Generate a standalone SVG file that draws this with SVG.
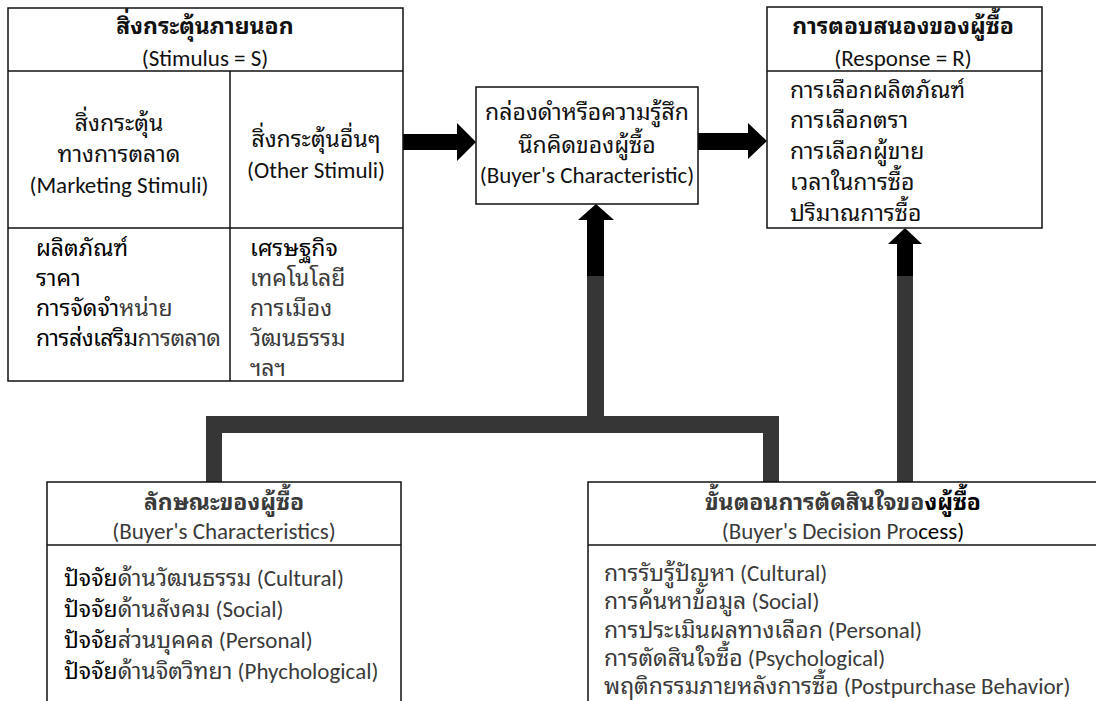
<svg xmlns="http://www.w3.org/2000/svg" width="1096" height="701" viewBox="0 0 1096 701">
<style>
  text { font-family: Carlito, Lato, "Noto Sans Thai Looped", Loma, Garuda, "Noto Sans Thai", "Noto Sans", sans-serif; font-size: 23px; fill: #111; }
  .b { font-weight: bold; }
  .c { text-anchor: middle; }
  .k { fill: #000; }
  .g { fill: #3a3a3a; }
  .box { fill: #fff; stroke: #111; stroke-width: 1.5; }
  .ln { stroke: #111; stroke-width: 1.5; fill: none; }
  .arr { fill: #000; }
  .gr { fill: #363636; }
</style>
<rect width="1096" height="701" fill="#fff"/>

<g id="connectors">
  <polygon class="arr" points="403,134 457,134 457,123 476,142 457,161 457,150 403,150"/>
  <polygon class="arr" points="698,133 748,133 748,123 767,141 748,159 748,150 698,150"/>
  <polygon class="arr" points="596,204 614,220 604,220 604,276 587,276 587,220 578,220"/>
  <polygon class="arr" points="905,228 922,244 913,244 913,276 897,276 897,244 888,244"/>
  <rect class="gr" x="587" y="276" width="17" height="142"/>
  <rect class="gr" x="897" y="276" width="16" height="207"/>
  <path class="gr" d="M206,416 H779 V482 H763 V433 H222 V482 H206 Z"/>
</g>

<g id="stimulus">
  <rect class="box" x="8" y="8" width="395" height="373"/>
  <line class="ln" x1="8" y1="71" x2="403" y2="71"/>
  <line class="ln" x1="230" y1="71" x2="230" y2="381"/>
  <line class="ln" x1="8" y1="228" x2="403" y2="228"/>
  <text class="b c" x="205" y="34">สิ่งกระตุ้นภายนอก</text>
  <text class="c" x="205" y="66">(Stimulus = S)</text>
  <text class="c" x="119" y="131">สิ่งกระตุ้น</text>
  <text class="c" x="119" y="162">ทางการตลาด</text>
  <text class="c" x="119" y="193">(Marketing Stimuli)</text>
  <text class="c" x="316" y="147">สิ่งกระตุ้นอื่นๆ</text>
  <text class="c" x="316" y="178">(Other Stimuli)</text>
  <text class="k" x="36" y="256">ผลิตภัณฑ์</text>
  <text class="k" x="36" y="286">ราคา</text>
  <text x="36" y="316"><tspan class="k">การจัดจำ</tspan><tspan class="g">หน่าย</tspan></text>
  <text x="36" y="346" letter-spacing="-0.5"><tspan class="k">การส่งเสริม</tspan><tspan class="g">การตลาด</tspan></text>
  <text class="k" x="250" y="256">เศรษฐกิจ</text>
  <text class="g" x="250" y="286">เทคโนโลยี</text>
  <text class="g" x="250" y="316">การเมือง</text>
  <text class="g" x="250" y="346">วัฒนธรรม</text>
  <text class="g" x="250" y="376">ฯลฯ</text>
</g>

<g id="blackbox">
  <rect class="box" x="476" y="87" width="222" height="117"/>
  <text class="c" x="587" y="120">กล่องดำหรือความรู้สึก</text>
  <text class="c" x="587" y="153">นึกคิดของผู้ซื้อ</text>
  <text class="c" x="587" y="183">(Buyer's Characteristic)</text>
</g>

<g id="response">
  <rect class="box" x="767" y="7" width="275" height="221"/>
  <line class="ln" x1="767" y1="71" x2="1042" y2="71"/>
  <text class="b c" x="903" y="34">การตอบสนองของผู้ซื้อ</text>
  <text class="c" x="903" y="66">(Response = R)</text>
  <text x="790" y="98">การเลือกผลิตภัณฑ์</text>
  <text x="790" y="128">การเลือกตรา</text>
  <text x="790" y="159">การเลือกผู้ขาย</text>
  <text x="790" y="190">เวลาในการซื้อ</text>
  <text x="790" y="221">ปริมาณการซื้อ</text>
</g>

<g id="buyer-characteristics">
  <rect class="box" x="47" y="482" width="354" height="230"/>
  <line class="ln" x1="47" y1="545" x2="401" y2="545"/>
  <text class="b c g" x="224" y="510">ลักษณะของผู้ซื้อ</text>
  <text class="c g" x="224" y="539">(Buyer's Characteristics)</text>
  <text x="64" y="586"><tspan class="k">ปัจจัย</tspan><tspan class="g">ด้านวัฒนธรรม (Cultural)</tspan></text>
  <text x="64" y="617"><tspan class="k">ปัจจัย</tspan><tspan class="g">ด้านสังคม (Social)</tspan></text>
  <text x="64" y="648"><tspan class="k">ปัจจัย</tspan><tspan class="g">ส่วนบุคคล (Personal)</tspan></text>
  <text x="64" y="679"><tspan class="k">ปัจจัย</tspan><tspan class="g">ด้านจิตวิทยา (Phychological)</tspan></text>
</g>

<g id="decision-process">
  <rect class="box" x="588" y="482" width="520" height="230"/>
  <line class="ln" x1="588" y1="545" x2="1100" y2="545"/>
  <text class="b c" x="843" y="510"><tspan class="g">ขั้นตอนการตัดสินใจขอ</tspan><tspan class="k">งผู้ซื้อ</tspan></text>
  <text class="c" x="843" y="539"><tspan class="g">(Buyer's Decision Pro</tspan><tspan class="k">cess)</tspan></text>
  <text class="g" x="604" y="581">การรับรู้ปัญหา (Cultural)</text>
  <text class="g" x="604" y="609">การค้นหาข้อมูล (Social)</text>
  <text class="g" x="604" y="638">การประเมินผลทางเลือก (Personal)</text>
  <text class="g" x="604" y="666">การตัดสินใจซื้อ (Psychological)</text>
  <text class="g" x="604" y="694">พฤติกรรมภายหลังการซื้อ (Postpurchase Behavior)</text>
</g>
</svg>
